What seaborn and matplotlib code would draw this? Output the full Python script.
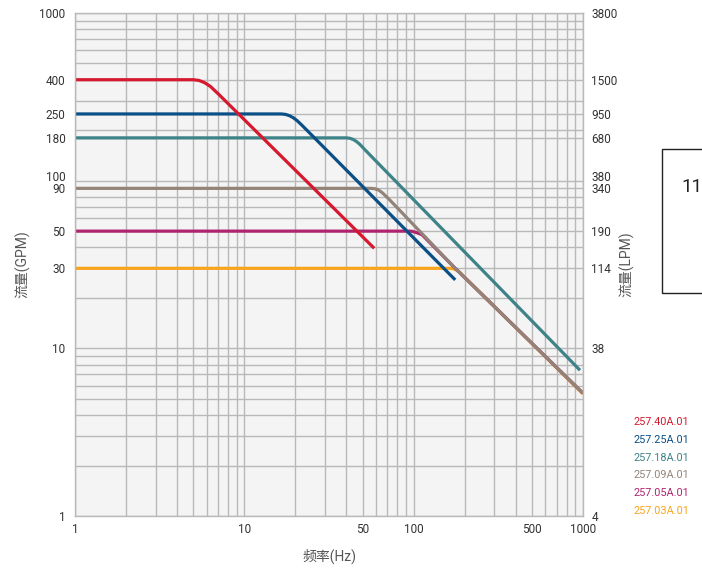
import matplotlib
matplotlib.use("Agg")
import matplotlib.pyplot as plt
import matplotlib.ticker as mt
import seaborn as sns
import pandas as pd
from matplotlib.patches import Rectangle

# ---- data ----
models = ["257.40A.01", "257.25A.01", "257.18A.01", "257.09A.01", "257.05A.01", "257.03A.01"]
colors = ["#d5192e", "#0b4f87", "#3e8388", "#928479", "#b0246f", "#f8a51d"]

red_f = [1, 5.0, 5.4, 5.8, 6.3, 7.0, 58.5]
red_q = [400, 400, 396, 385, 365, 330, 39.5]
blue_f = [1, 16.5, 17.5, 18.5, 19.5, 20.5, 22, 176]
blue_q = [250, 250, 248.5, 244, 237, 228, 213, 25.6]
teal_f = [1, 40, 42, 44, 46, 48, 52, 960]
teal_q = [180, 180, 179, 176, 171, 165, 151.5, 7.4]
gray_f = [1, 56, 59, 62, 65, 68, 72, 176, 1000]
gray_q = [90, 90, 89.5, 88, 85, 81.5, 77, 30, 5.4]
mag_f = [1, 96, 100, 104, 108, 112, 176, 1000]
mag_q = [50, 50, 49.6, 49, 48.3, 47.6, 30, 5.4]
orng_f = [1, 165, 172, 180, 188, 196, 1000]
orng_q = [30, 30, 29.8, 29.2, 28.3, 27.1, 5.35]

series_f = [red_f, blue_f, teal_f, gray_f, mag_f, orng_f]
series_q = [red_q, blue_q, teal_q, gray_q, mag_q, orng_q]

gpm_ticks = [1, 10, 30, 50, 90, 100, 180, 250, 400, 1000]
lpm_labels = ["4", "38", "114", "190", "340", "380", "680", "950", "1500", "3800"]
x_ticks = [1, 10, 50, 100, 500, 1000]

# ---- plot ----
sns.set_style("white")
plt.rcParams["font.family"] = ["Roboto", "Noto Sans CJK SC", "DejaVu Sans"]

fig = plt.figure(figsize=(7.02, 5.72), dpi=100)
ax = fig.add_axes([75 / 702, 1 - 516 / 572, (583 - 75) / 702, (516 - 13) / 572])
ax.set_facecolor("#f4f4f4")

rows = []
for m, fs, qs in zip(models, series_f, series_q):
    for f, q in zip(fs, qs):
        rows.append({"model": m, "f": f, "q": q})
df = pd.DataFrame(rows)

# draw bottom-most first (reverse of legend order)
for m, c in reversed(list(zip(models, colors))):
    sub = df[df["model"] == m]
    sns.lineplot(data=sub, x="f", y="q", color=c, lw=2.3, sort=False,
                 estimator=None, ax=ax, legend=False, solid_capstyle="butt",
                 solid_joinstyle="round")

ax.set_xscale("log")
ax.set_yscale("log")
ax.set_xlim(1, 1000)
ax.set_ylim(1, 1000)

ax.grid(True, which="both", color="#b9b9b9", lw=1.0)
ax.set_axisbelow(True)
for s in ax.spines.values():
    s.set_color("#b9b9b9")
    s.set_linewidth(1.0)

ax.set_xticks(x_ticks)
ax.set_xticklabels([str(t) for t in x_ticks])
ax.set_yticks(gpm_ticks)
ax.set_yticklabels([str(t) for t in gpm_ticks])
ax.xaxis.set_minor_locator(mt.LogLocator(base=10, subs=range(2, 10)))
ax.yaxis.set_minor_locator(mt.LogLocator(base=10, subs=range(2, 10)))
ax.xaxis.set_minor_formatter(mt.NullFormatter())
ax.yaxis.set_minor_formatter(mt.NullFormatter())
ax.tick_params(axis="both", which="both", length=0, labelsize=8.5, colors="#333333")
ax.tick_params(axis="y", pad=7)
ax.tick_params(axis="x", pad=5)

ax2 = ax.twinx()
ax2.set_yscale("log")
ax2.set_ylim(1, 1000)
ax2.set_yticks(gpm_ticks)
ax2.set_yticklabels(lpm_labels)
ax2.yaxis.set_minor_formatter(mt.NullFormatter())
ax2.tick_params(axis="y", which="both", length=0, labelsize=8.5, colors="#333333", pad=6)
for s in ax2.spines.values():
    s.set_visible(False)

# nudge the "100"/"380" labels up so they don't collide with "90"/"340"
for lab in ax.get_yticklabels():
    if lab.get_text() == "100":
        lab.set_va("baseline")
for lab in ax2.get_yticklabels():
    if lab.get_text() == "380":
        lab.set_va("baseline")

ax.set_xlabel("频率(Hz)", fontsize=10, color="#555555", labelpad=9)
ax.set_ylabel("流量(GPM)", fontsize=10, color="#555555", labelpad=6)
ax2.set_ylabel("流量(LPM)", fontsize=10, color="#555555", labelpad=1)

# legend as coloured text
for i, (m, c) in enumerate(zip(models, colors)):
    fig.text(633 / 702, 1 - (422 + i * 17.8) / 572, m, color=c, fontsize=7.8,
             ha="left", va="center")

# partial box on the right
fig.patches.append(Rectangle((662 / 702, 1 - 293 / 572), 0.1, (293 - 149) / 572,
                             transform=fig.transFigure, fill=False, ec="#222222", lw=1.0))
fig.text(681 / 702, 1 - 187 / 572, "11", fontsize=13.5,
         color="#222222", ha="left", va="center")

fig.savefig("out.png", dpi=100)
